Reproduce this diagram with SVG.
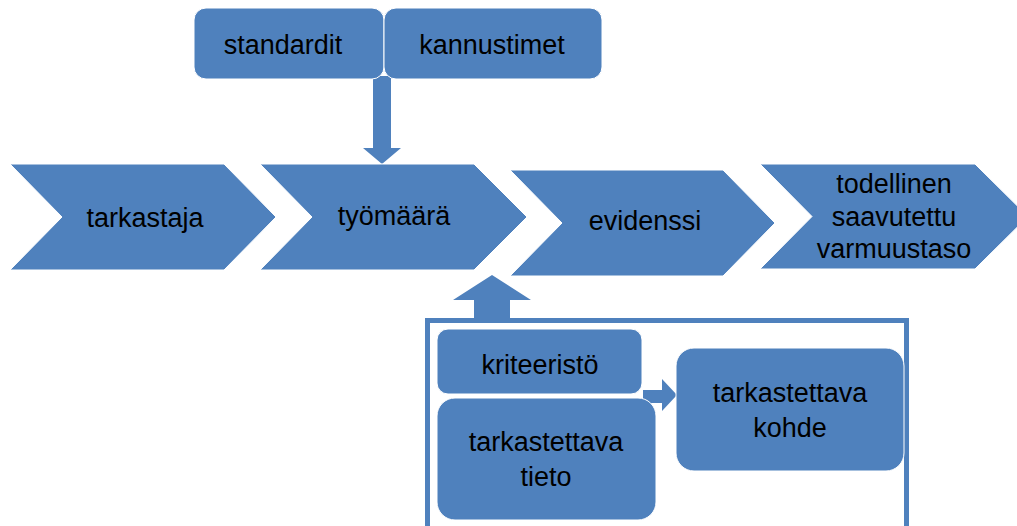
<svg xmlns="http://www.w3.org/2000/svg" width="1017" height="526" viewBox="0 0 1017 526">
<style>
.s{fill:#4F81BD;stroke:#ffffff;stroke-width:1}
.a{fill:#4F81BD}
.t{font-family:"Liberation Sans",Arial,sans-serif;font-size:27px;fill:#000;text-anchor:middle}
</style>
<rect width="1017" height="526" fill="#ffffff"/>
<g id="container">
<rect x="427.5" y="320.5" width="479" height="215" fill="none" stroke="#4F81BD" stroke-width="5"/>
</g>
<g id="connectors">
<path class="a" d="M373,76 L391,76 L391,148 L401,148 L382,164 L363,148 L373,148 Z"/>
<path class="a" d="M474,320 L474,300 L453,300 L492,275 L531,300 L510,300 L510,320 Z"/>
<path class="a" d="M643,390 L662,390 L662,379 L677,395 L662,411 L662,403 L643,403 Z"/>
</g>
<g id="n-standardit">
<rect class="s" x="194" y="8" width="190" height="71" rx="12"/>
<text class="t" x="283" y="54">standardit</text>
</g>
<g id="n-kannustimet">
<rect class="s" x="384" y="8" width="218" height="71" rx="12"/>
<text class="t" x="492" y="54">kannustimet</text>
</g>
<g id="n-tarkastaja">
<path class="s" d="M10,164 L224,164 L276,217 L224,270 L10,270 L62,217 Z"/>
<text class="t" x="145" y="227">tarkastaja</text>
</g>
<g id="n-tyomaara">
<path class="s" d="M260,164 L474,164 L527,217 L474,270 L260,270 L312,217 Z"/>
<text class="t" x="394" y="225">työmäärä</text>
</g>
<g id="n-evidenssi">
<path class="s" d="M510,170 L723,170 L775,223 L723,276 L510,276 L562,223 Z"/>
<text class="t" x="645" y="230">evidenssi</text>
</g>
<g id="n-varmuustaso">
<path class="s" d="M760,164 L975,164 L1028,216.5 L975,269 L760,269 L812,216.5 Z"/>
<text class="t" x="894" y="193">todellinen</text>
<text class="t" x="894" y="226">saavutettu</text>
<text class="t" x="894" y="258">varmuustaso</text>
</g>
<g id="n-kriteeristo">
<rect class="s" x="437" y="329" width="205" height="65" rx="11"/>
<text class="t" x="540" y="374">kriteeristö</text>
</g>
<g id="n-tieto">
<rect class="s" x="437" y="398" width="219" height="122" rx="18"/>
<text class="t" x="546" y="451">tarkastettava</text>
<text class="t" x="546" y="486">tieto</text>
</g>
<g id="n-kohde">
<rect class="s" x="676" y="348" width="228" height="123" rx="18"/>
<text class="t" x="790" y="402">tarkastettava</text>
<text class="t" x="790" y="437">kohde</text>
</g>
</svg>
